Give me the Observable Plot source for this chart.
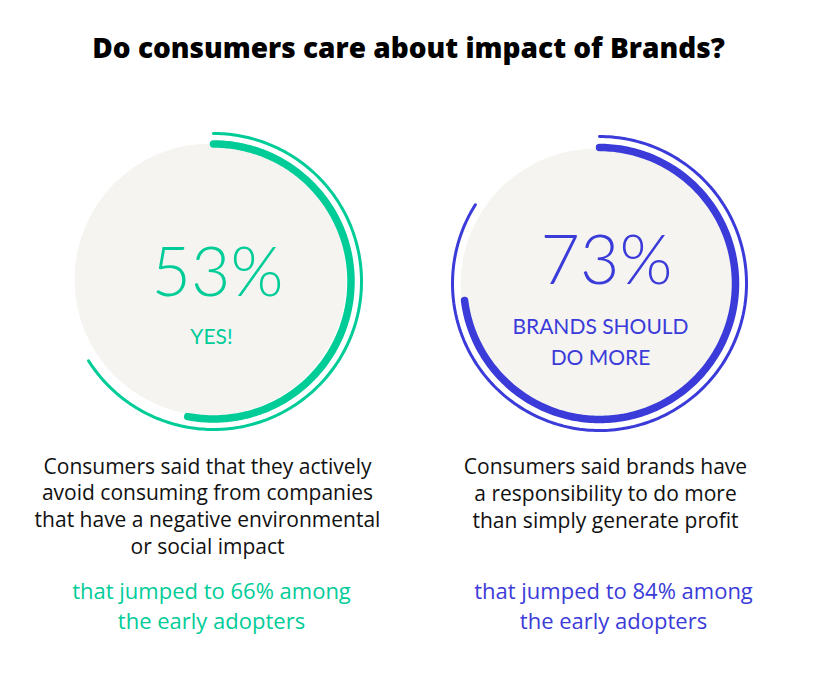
<!DOCTYPE html>
<html>
<head>
<meta charset="utf-8">
<script src="https://cdn.jsdelivr.net/npm/d3@7"></script>
<script src="https://cdn.jsdelivr.net/npm/@observablehq/plot@0.6"></script>
<style>
  html, body { margin: 0; padding: 0; background: #fff; }
</style>
</head>
<body>
<div id="chart"></div>
<script>
// ---- data ----
const title = "Do consumers care about impact of Brands?";
const categories = ["YES!", "BRANDS SHOULD\nDO MORE"];
const values = [53, 73];              // % of all consumers
const adopterValues = [66, 84];       // % among early adopters
const descriptions = [
  "Consumers said that they actively\navoid consuming from companies\nthat have a negative environmental\nor social impact",
  "Consumers said brands have\na responsibility to do more\nthan simply generate profit"
];
const colors = ["#00CC98", "#3B3BD9"];

// ---- layout (positions / sizes, not data) ----
const W = 816, H = 692;
const layout = [
  {cx: 213, cy: 281, gx: 210, gy: 279, gr: 136, rThick: 137.5, rThin: 148, numX: 217, numY: 295, catX: 211, catY: 343, descX: 207, descY: 553, adoptX: 211, adoptY: 628},
  {cx: 599, cy: 283, gx: 596, gy: 284, gr: 136, rThick: 136, rThin: 147, numX: 606, numY: 283, catX: 600, catY: 364, descX: 605, descY: 527, adoptX: 613, adoptY: 628}
];

const panels = values.map((v, i) => ({
  value: v, adopt: adopterValues[i], cat: categories[i], desc: descriptions[i], color: colors[i],
  num: v + "%",
  adoptText: "that jumped to " + adopterValues[i] + "% among\nthe early adopters",
  ...layout[i]
}));

function arcPoints(key, radiusKey) {
  const pts = [];
  panels.forEach((p, i) => {
    const frac = p[key] / 100;
    const n = 240;
    for (let k = 0; k <= n; k++) {
      const a = (k / n) * frac * 2 * Math.PI;
      pts.push({id: i, color: p.color, x: p.cx + p[radiusKey] * Math.sin(a), y: p.cy - p[radiusKey] * Math.cos(a)});
    }
  });
  return pts;
}
const thick = arcPoints("value", "rThick");
const thin = arcPoints("adopt", "rThin");

const sans = "'Open Sans', 'Noto Sans', sans-serif";
const chart = Plot.plot({
  width: W, height: H, margin: 0,
  x: {domain: [0, W], range: [0, W], axis: null},
  y: {domain: [0, H], range: [0, H], axis: null},
  r: {type: "identity"},
  style: {background: "#fff", fontFamily: "Lato, sans-serif"},
  marks: [
    Plot.dot(panels, {x: "gx", y: "gy", r: "gr", fill: "#F5F4F1", stroke: null}),
    Plot.line(thin, {x: "x", y: "y", z: "id", stroke: "color", strokeWidth: 3, strokeLinecap: "round", curve: "linear"}),
    Plot.line(thick, {x: "x", y: "y", z: "id", stroke: "color", strokeWidth: 7.5, strokeLinecap: "round", curve: "linear"}),
    Plot.text([title], {x: () => W / 2, y: () => 57, text: d => d, fontFamily: sans, fontSize: 28, fontWeight: 800, fill: "#000", lineAnchor: "bottom", textAnchor: "middle", letterSpacing: 0.55}),
    Plot.text(panels, {x: "numX", y: "numY", text: "num", fill: "color", fontFamily: "Lato, sans-serif", fontSize: 68, fontWeight: 300, lineAnchor: "bottom", textAnchor: "middle"}),
    Plot.text(panels, {x: "catX", y: "catY", text: "cat", fill: "color", fontFamily: "Lato, sans-serif", fontSize: 21, fontWeight: 400, lineAnchor: "bottom", textAnchor: "middle", lineHeight: 1.43, letterSpacing: 0.5}),
    Plot.text(panels, {x: "descX", y: "descY", text: "desc", fill: "#111", fontFamily: sans, fontSize: 21, fontWeight: 400, lineAnchor: "bottom", textAnchor: "middle", lineHeight: 1.27, letterSpacing: 1.2}),
    Plot.text(panels, {x: "adoptX", y: "adoptY", text: "adoptText", fill: "color", fontFamily: sans, fontSize: 22, fontWeight: 500, lineAnchor: "bottom", textAnchor: "middle", lineHeight: 1.36, letterSpacing: 1.9})
  ]
});
document.getElementById("chart").appendChild(chart);
</script>
</body>
</html>
